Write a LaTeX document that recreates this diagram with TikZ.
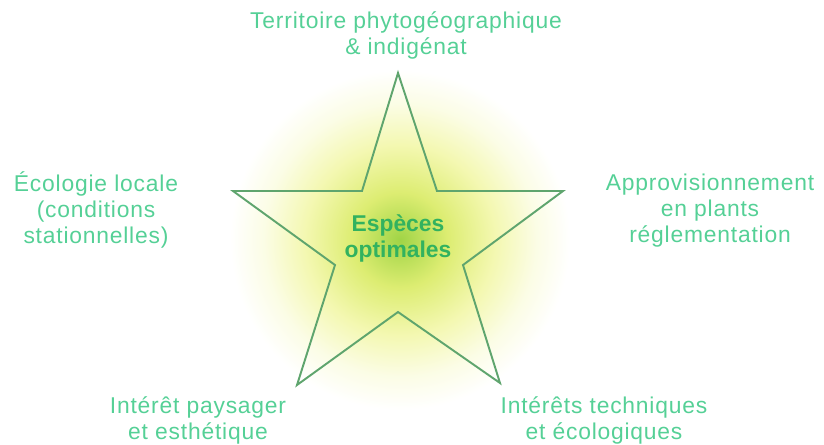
\documentclass[tikz,border=0pt]{standalone}
\usepackage{fontspec}
\setmainfont{Liberation Sans}
\usepackage{xcolor}
\usetikzlibrary{positioning}

\definecolor{critgreen}{RGB}{85,208,150}
\definecolor{coregreen}{RGB}{50,178,95}
\definecolor{stargreen}{RGB}{95,165,110}
\definecolor{glowgreen}{RGB}{160,212,70}
\definecolor{glowyellow}{RGB}{236,243,125}
\pgfdeclareradialshading{glow}{\pgfpoint{0bp}{0bp}}{color(0bp)=(glowgreen); color(7bp)=(glowyellow!80!glowgreen); color(14bp)=(glowyellow!60!white); color(20bp)=(glowyellow!20!white); color(25bp)=(white); color(50bp)=(white)}

\begin{document}
\begin{tikzpicture}[
  x=0.02cm, y=-0.02cm,
  crit/.style={align=center, text=critgreen, inner sep=0pt, font=\fontsize{13}{14.8}\selectfont\addfontfeatures{LetterSpace=3.5}},
  core/.style={align=center, text=coregreen, inner sep=0pt, font=\fontsize{13}{14.8}\selectfont\bfseries},
  star/.style={draw=stargreen, line width=1.1pt, line join=miter}
]
\useasboundingbox (0,0) rectangle (824,444);

% Glow
\shade[shading=glow] (400,240) circle (3.4cm);

% Star
\coordinate (top) at (398,73);
\coordinate (ur) at (437,191);
\coordinate (rtip) at (563,191);
\coordinate (lr) at (463,265);
\coordinate (brtip) at (500,383);
\coordinate (bot) at (398,312);
\coordinate (bltip) at (297,385);
\coordinate (ll) at (335,265);
\coordinate (ltip) at (233,191);
\coordinate (ul) at (362,191);
\draw[star] (top) -- (ur) -- (rtip) -- (lr) -- (brtip) -- (bot) -- (bltip) -- (ll) -- (ltip) -- (ul) -- cycle;

% Centre
\node[core] (especes) at (398,238) {Espèces\\optimales};

% Criteria
\node[crit] (territoire) at (406,35) {Territoire phytogéographique\\\& indigénat};
\node[crit] (ecologie) at (96,210) {Écologie locale\\(conditions\\stationnelles)};
\node[crit] (approv) at (710,211) {Approvisionnement\\en plants\\réglementation};
\node[crit] (paysager) at (198,420) {Intérêt paysager\\et esthétique};
\node[crit] (techniques) at (604,420) {Intérêts techniques\\et écologiques};

\end{tikzpicture}
\end{document}
